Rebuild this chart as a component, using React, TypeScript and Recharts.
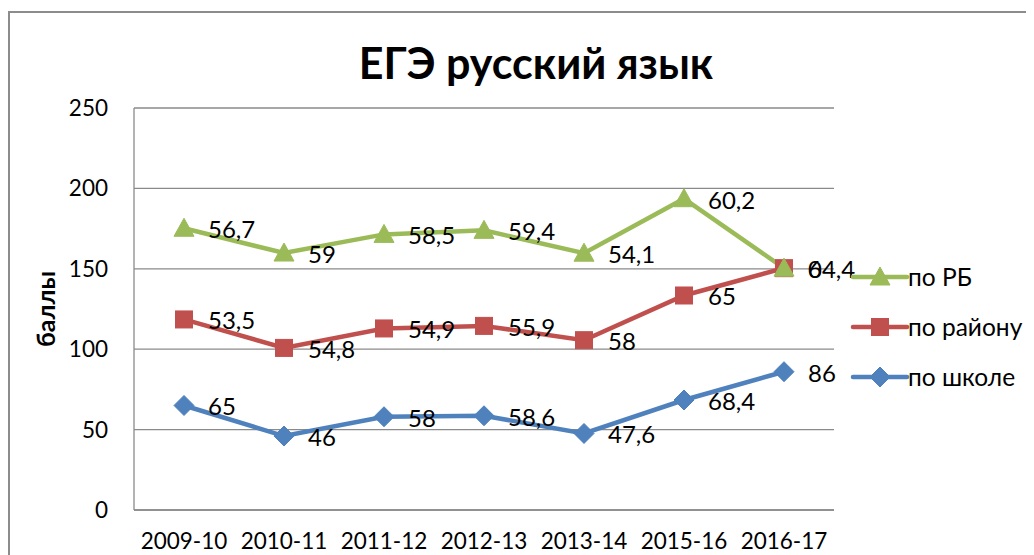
import React from 'react';
import { LineChart, Line, XAxis, YAxis, CartesianGrid, Legend, LabelList } from 'recharts';

const categories = ['2009-10', '2010-11', '2011-12', '2012-13', '2013-14', '2015-16', '2016-17'];
const schoolValues = [65, 46, 58, 58.6, 47.6, 68.4, 86];
const districtValues = [53.5, 54.8, 54.9, 55.9, 58, 65, 64.4];
const rbValues = [56.7, 59, 58.5, 59.4, 54.1, 60.2, 0];
const yTicks = [0, 50, 100, 150, 200, 250];

const BLUE = '#4F81BD';
const RED = '#C0504D';
const GREEN = '#9BBB59';
const FONT = 'Lato, "Open Sans", sans-serif';

// Stacked line chart: cumulative values are plotted, raw values are labelled
const data = categories.map((cat, i) => {
  const s = schoolValues[i];
  const d = districtValues[i];
  const r = rbValues[i];
  return {
    cat,
    school: s,
    district: +(s + d).toFixed(2),
    rb: +(s + d + r).toFixed(2),
    schoolRaw: s,
    districtRaw: d,
    rbRaw: r,
  };
});

const fmt = (v: number) => String(v).replace('.', ',');

const Diamond = ({ cx, cy, color, size = 10 }: any) => (
  <polygon points={`${cx},${cy - size} ${cx + size},${cy} ${cx},${cy + size} ${cx - size},${cy}`} fill={color} stroke={color} strokeWidth={1} />
);
const Square = ({ cx, cy, color, size = 8.5 }: any) => (
  <rect x={cx - size} y={cy - size} width={size * 2} height={size * 2} fill={color} stroke={color} strokeWidth={1} />
);
const Triangle = ({ cx, cy, color, size = 10 }: any) => (
  <polygon points={`${cx},${cy - size} ${cx + size},${cy + size * 0.8} ${cx - size},${cy + size * 0.8}`} fill={color} stroke={color} strokeWidth={1} />
);

const makeDot = (Shape: any, color: string) => (props: any) => {
  const { cx, cy, index } = props;
  if (cx == null || cy == null) return <g key={`d-${index}`} />;
  return <Shape key={`d-${color}-${index}`} cx={cx} cy={cy} color={color} />;
};

const renderLabel = (props: any) => {
  const x = props.x ?? props.viewBox?.x;
  const y = props.y ?? props.viewBox?.y;
  const { value, index } = props;
  return (
    <text key={`l-${index}-${x}-${y}`} x={x + 24} y={y + 10} fontSize={24} fontFamily={FONT} fill="#000">
      {fmt(value)}
    </text>
  );
};

const legendItems = [
  { name: 'по РБ', color: GREEN, Shape: Triangle },
  { name: 'по району', color: RED, Shape: Square },
  { name: 'по школе', color: BLUE, Shape: Diamond },
];

const renderLegend = () => (
  <svg width={185} height={150} style={{ overflow: 'visible' }}>
    {legendItems.map((it, i) => {
      const y = 12 + i * 50;
      return (
        <g key={it.name}>
          <line x1={2} x2={56} y1={y} y2={y} stroke={it.color} strokeWidth={4.5} strokeLinecap="round" />
          <it.Shape cx={29} cy={y} color={it.color} />
          <text x={57} y={y + 9} fontSize={24.5} fontFamily={FONT} fill="#000">{it.name}</text>
        </g>
      );
    })}
  </svg>
);

export default function App() {
  return (
    <div style={{ position: 'relative', width: 1026, height: 547, overflow: 'hidden', background: '#fff' }}>
      <div style={{ position: 'absolute', left: 0, top: 3, width: 1100, height: 700, border: '2px solid #8c8c8c', boxSizing: 'border-box' }} />
      <div style={{ position: 'absolute', left: 0, top: 32, width: 1056, textAlign: 'center', fontFamily: FONT, fontWeight: 700, fontSize: 43, lineHeight: '46px', color: '#000' }}>
        ЕГЭ русский язык
      </div>
      <div style={{ position: 'absolute', left: 0, top: 0 }}>
        <LineChart width={1026} height={547} data={data} margin={{ top: 100, right: 15, left: 66, bottom: 15 }}>
          <CartesianGrid vertical={false} stroke="#8a8a8a" strokeWidth={1.3} />
          <XAxis
            dataKey="cat"
            axisLine={{ stroke: '#8a8a8a', strokeWidth: 1.3 }}
            tickLine={false}
            tickMargin={17}
            height={30}
            interval={0}
            padding={{ left: 50, right: 50 }}
            tick={{ fontSize: 22.5, fontFamily: FONT, fill: '#000' }}
          />
          <YAxis
            domain={[0, 250]}
            ticks={yTicks}
            width={60}
            axisLine={{ stroke: '#8a8a8a', strokeWidth: 1.3 }}
            tickLine={false}
            tickMargin={20}
            tick={{ fontSize: 22.5, fontFamily: FONT, fill: '#000' }}
            label={{ value: 'баллы', angle: -90, position: 'insideLeft', offset: -28, style: { fontSize: 25, fontWeight: 700, fontFamily: FONT, fill: '#000', textAnchor: 'middle' } }}
          />
          <Line dataKey="school" name="по школе" stroke={BLUE} strokeWidth={4.5} dot={makeDot(Diamond, BLUE)} activeDot={false} isAnimationActive={false}>
            <LabelList dataKey="schoolRaw" content={renderLabel} />
          </Line>
          <Line dataKey="district" name="по району" stroke={RED} strokeWidth={4.5} dot={makeDot(Square, RED)} activeDot={false} isAnimationActive={false}>
            <LabelList dataKey="districtRaw" content={renderLabel} />
          </Line>
          <Line dataKey="rb" name="по РБ" stroke={GREEN} strokeWidth={4.5} dot={makeDot(Triangle, GREEN)} activeDot={false} isAnimationActive={false}>
            <LabelList dataKey="rbRaw" content={renderLabel} />
          </Line>
          <Legend
            layout="vertical"
            align="right"
            verticalAlign="top"
            wrapperStyle={{ left: 843, top: 257, width: 185 }}
            content={renderLegend}
          />
        </LineChart>
      </div>
    </div>
  );
}
